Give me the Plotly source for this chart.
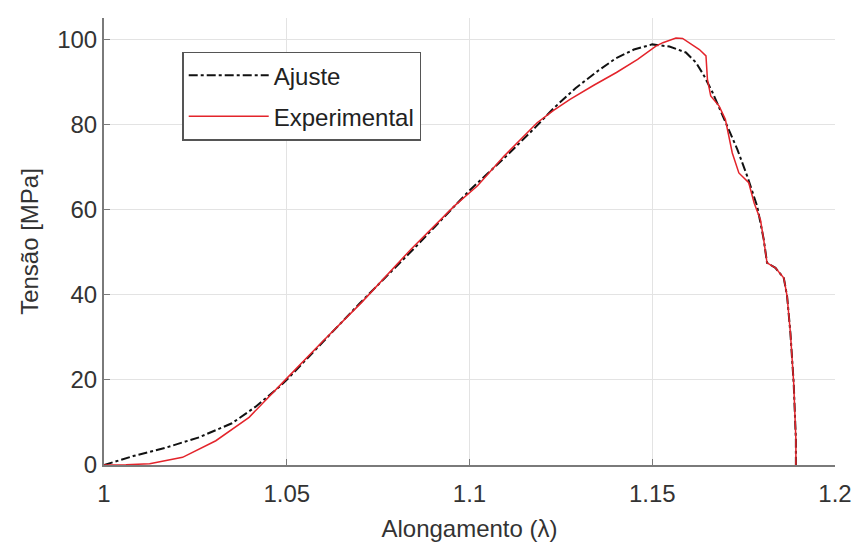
import plotly.graph_objects as go

# Ajuste (fit) curve
ajuste_x = [1.000, 1.008, 1.017, 1.026, 1.035, 1.0415, 1.048, 1.050, 1.060, 1.070, 1.085,
            1.100, 1.110, 1.118, 1.123, 1.129, 1.135, 1.140, 1.145, 1.150, 1.1547,
            1.1592, 1.162, 1.1642, 1.1665, 1.171, 1.1733, 1.176, 1.1787, 1.1805,
            1.1814, 1.1837, 1.186, 1.1869, 1.1878, 1.1887, 1.1893, 1.1893]
ajuste_y = [0.0, 2.1, 4.1, 6.5, 9.8, 13.7, 18.4, 20.0, 29.0, 38.0, 51.0,
            64.5, 72.5, 79.3, 83.8, 88.5, 92.5, 95.5, 97.6, 98.8, 98.3,
            96.9, 94.5, 91.4, 87.5, 78.8, 74.1, 67.8, 60.8, 53.0,
            47.5, 46.3, 43.9, 39.6, 31.0, 19.2, 5.9, 0.0]

# Experimental curve
exp_x = [1.000, 1.006, 1.0125, 1.0215, 1.0306, 1.0397, 1.0496, 1.060, 1.0705, 1.084,
         1.0958, 1.1022, 1.1094, 1.1185, 1.123, 1.1275, 1.134, 1.1402, 1.146, 1.151,
         1.1529, 1.155, 1.1565, 1.1583, 1.1605, 1.1629, 1.1647, 1.1651, 1.166, 1.1683,
         1.170, 1.1719, 1.1737, 1.1764, 1.1779, 1.1796, 1.1805, 1.1814, 1.1837, 1.186,
         1.1869, 1.1878, 1.1887, 1.1893, 1.1893]
exp_y = [0.0, 0.05, 0.3, 1.8, 5.7, 11.2, 20.0, 29.2, 38.2, 50.7,
         60.8, 65.6, 72.5, 80.4, 83.3, 85.9, 89.2, 92.2, 95.3, 98.4,
         99.2, 99.9, 100.3, 100.2, 99.0, 97.6, 96.1, 90.6, 86.7, 84.3,
         81.2, 73.3, 68.6, 66.3, 61.5, 57.6, 52.9, 47.5, 46.3, 43.9,
         39.6, 31.0, 19.2, 5.9, 0.0]

x_ticks = [1, 1.05, 1.1, 1.15, 1.2]
x_tick_labels = ["1", "1.05", "1.1", "1.15", "1.2"]
y_ticks = [0, 20, 40, 60, 80, 100]

font_family = "Liberation Sans, Arial, sans-serif"
text_color = "#333333"
axis_color = "#7a7a7a"
grid_color = "#e3e3e3"

fig = go.Figure()
fig.add_trace(go.Scatter(x=ajuste_x, y=ajuste_y, mode="lines", name="Ajuste",
                         legendgroup="a",
                         line=dict(color="#111111", width=2, dash="dashdot")))
fig.add_trace(go.Scatter(x=exp_x, y=exp_y, mode="lines", name="Experimental",
                         legendgroup="b",
                         line=dict(color="#e3242b", width=1.5)))

fig.update_layout(
    width=864, height=554,
    margin=dict(l=104, r=24, t=18, b=89),
    paper_bgcolor="white", plot_bgcolor="white",
    font=dict(family=font_family, size=24, color=text_color),
    showlegend=True,
    legend=dict(x=0.107, y=0.925, xanchor="left", yanchor="top",
                bgcolor="white", bordercolor="#555555", borderwidth=1.5,
                font=dict(size=24, color="#222222"), itemwidth=80,
                tracegroupgap=7),
    xaxis=dict(range=[1, 1.2], tickvals=x_ticks, ticktext=x_tick_labels,
               showgrid=True, gridcolor=grid_color, gridwidth=1,
               showline=True, linecolor=axis_color, linewidth=2,
               ticks="inside", ticklen=6, tickcolor=axis_color,
               ticklabelstandoff=6,
               zeroline=False, mirror=False,
               title=dict(text="Alongamento (λ)", standoff=14,
                          font=dict(size=24, color=text_color))),
    yaxis=dict(range=[0, 105], tickvals=y_ticks,
               showgrid=True, gridcolor=grid_color, gridwidth=1,
               showline=True, linecolor=axis_color, linewidth=2,
               ticks="inside", ticklen=6, tickcolor=axis_color,
               zeroline=False, mirror=False,
               title=dict(text="Tensão [MPa]", standoff=12,
                          font=dict(size=24, color=text_color))),
)

fig.write_html("out.html")
